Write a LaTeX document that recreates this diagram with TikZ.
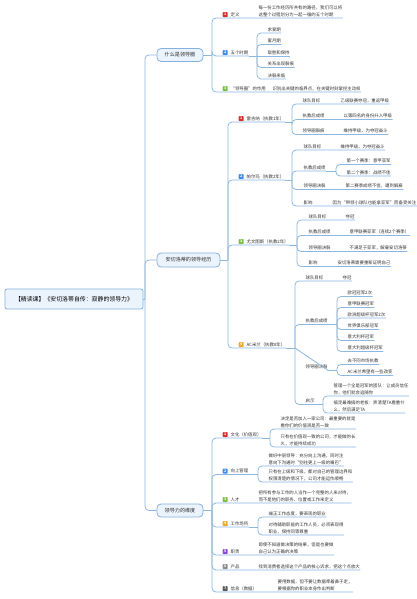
\documentclass[tikz,border=0pt]{standalone}
\usepackage{fontspec}
\setmainfont{Noto Sans CJK SC}
\definecolor{lnc}{HTML}{8DB8E3}
\definecolor{txtc}{HTML}{333333}
\definecolor{boxfill}{HTML}{EBF3FC}
\definecolor{boxdraw}{HTML}{86B1DE}
\definecolor{bred}{HTML}{E42B2B}
\definecolor{bblue}{HTML}{3C8EEA}
\definecolor{bgreen}{HTML}{7DC043}
\definecolor{borange}{HTML}{F5A623}
\definecolor{bpurple}{HTML}{9146E8}
\definecolor{bgray}{HTML}{8C8C8C}
\definecolor{bdgray}{HTML}{5E5E5E}
\newcommand\mmT[4]{\node[txt] (#1) at (#2,#3) {#4};}
\newcommand\mmB[5]{\node[badge,fill=#4] (#1) at (#2,#3) {#5};}
\newcommand\mmC[2]{\draw[conn] (#1) |- (#2.south east);}
\newcommand\mmS[2]{\draw[conn] (#1) -- (#2.south east);}
\newcommand\mmH[2]{\draw[conn] (#1.south east) -- (#2);}
\begin{document}
\begin{tikzpicture}[x=1pt,y=-1pt,
  txt/.style={inner xsep=0.4pt,inner ysep=1pt,anchor=south west,align=left,
    font=\fontsize{4.4}{6.5}\selectfont,text=txtc},
  badge/.style={minimum size=5pt,inner sep=0pt,rounded corners=0.8pt,text=white,
    font=\fontsize{3.6}{3.6}\selectfont\bfseries},
  conn/.style={draw=lnc,line width=0.8pt,rounded corners=4pt},
  mainbox/.style={draw=boxdraw,fill=boxfill,line width=0.8pt,rounded corners=4pt,
    inner sep=0pt,font=\fontsize{5.1}{6}\selectfont,text=txtc},
  rootbox/.style={draw=boxdraw,fill=boxfill,line width=0.8pt,rounded corners=2pt,
    inner sep=0pt,minimum width=138pt,minimum height=20pt,
    font=\fontsize{5.9}{7}\selectfont,text=black}]
\useasboundingbox (0,0) rectangle (417,599);
\fill[white] (0,0) rectangle (417,599);

% root and main nodes
\node[rootbox] (root) at (74,299) {【精读课】《安切洛蒂自传：寂静的领导力》};
\node[mainbox,minimum width=46pt,minimum height=13pt] (m1) at (180,55) {什么是领导圈};
\node[mainbox,minimum width=63pt,minimum height=14pt] (m2) at (188.5,260) {安切洛蒂的领导经历};
\node[mainbox,minimum width=46pt,minimum height=13pt] (m3) at (180,510.5) {领导力的维度};

\coordinate (jR) at (145,299);
\draw[conn] (root.east) -- (jR);
\draw[conn] (jR) |- (m1.west);
\draw[conn] (jR) |- (m2.west);
\draw[conn] (jR) |- (m3.west);

% ---------- branch 1
\coordinate (jA) at (212,55);
\draw[conn] (m1.east) -- (jA);
\mmB{k11}{225.2}{14.6}{bred}{1}
\mmT{t11}{230}{18}{定义}
\mmT{v11}{258}{18}{每一份工作经历所共有的路径，我们可以将\\这整个过程划分为一起一循的五个时期}
\mmC{jA}{v11}
\mmB{k12}{225.2}{52.6}{bblue}{2}
\mmT{t12}{230}{56}{五个时期}
\mmC{jA}{t12}
\coordinate (jB) at (257,56);
\mmH{t12}{jB}
\mmT{p1}{267}{33}{求爱期}
\mmT{p2}{267}{44.5}{蜜月期}
\mmT{p3}{267}{56}{取胜和保持}
\mmT{p4}{267}{67.5}{关系出现裂痕}
\mmT{p5}{267}{79}{决裂来临}
\mmC{jB}{p1}\mmC{jB}{p2}\mmS{jB}{p3}\mmC{jB}{p4}\mmC{jB}{p5}
\mmB{k13}{225.2}{88.6}{bgreen}{3}
\mmT{t13}{230}{92}{“领导圈”的作用}
\mmT{v13}{272}{92}{识别出关键的临界点，在关键时刻掌控主动权}
\mmC{jA}{v13}

% ---------- branch 2
\coordinate (jC) at (228,260);
\draw[conn] (m2.east) -- (jC);
% Reggina
\mmB{k21}{241.2}{118.6}{bred}{1}
\mmT{t21}{246}{122}{雷吉纳（执教1年）}
\mmC{jC}{t21}
\coordinate (jD) at (292,122);
\mmH{t21}{jD}
\mmT{r1}{302}{104}{球队目标}
\mmT{r1v}{340}{104}{乙级联赛夺冠，重返甲级}
\mmT{r2}{302}{119.5}{执教后成绩}
\mmT{r2v}{343}{119.5}{以第四名的身份升入甲级}
\mmT{r3}{302}{134.5}{领导圈裂痕}
\mmT{r3v}{343}{134.5}{维持甲级，为夺冠奋斗}
\mmC{jD}{r1v}\mmC{jD}{r2v}\mmC{jD}{r3v}
% Parma
\mmB{k22}{241.2}{176.6}{bblue}{2}
\mmT{t22}{246}{180}{帕尔玛（执教2年）}
\mmC{jC}{t22}
\coordinate (jE) at (292,180);
\mmH{t22}{jE}
\mmT{q1}{303}{150}{球队目标}
\mmT{q1v}{340}{150}{维持甲级，为夺冠奋斗}
\mmT{q2}{303}{171}{执教后成绩}
\coordinate (jF) at (336,171);
\mmT{q2a}{346}{164.5}{第一个赛季：意甲亚军}
\mmT{q2b}{346}{176}{第二个赛季：战绩不佳}
\mmT{q3}{303}{189.5}{领导圈决裂}
\mmT{q3v}{345}{189.5}{第二赛季成绩不佳，遭到解雇}
\mmT{q4}{303}{206}{影响}
\mmT{q4v}{332}{206}{因为“带领小球队也能拿亚军”而备受关注}
\mmC{jE}{q1v}\mmC{jE}{q2}\mmC{jE}{q3v}\mmC{jE}{q4v}
\mmH{q2}{jF}
\mmC{jF}{q2a}\mmC{jF}{q2b}
% Juventus
\mmB{k23}{241.2}{241.6}{bgreen}{3}
\mmT{t23}{246}{245}{尤文图斯（执教2年）}
\mmC{jC}{t23}
\coordinate (jG) at (297,245);
\mmH{t23}{jG}
\mmT{u1}{308}{220}{球队目标}
\mmT{u1v}{345}{220}{夺冠}
\mmT{u2}{308}{235.5}{执教后成绩}
\mmT{u2v}{349}{235.5}{意甲联赛亚军（连续2个赛季）}
\mmT{u3}{308}{251.5}{领导圈决裂}
\mmT{u3v}{349}{251.5}{不满足于亚军，解雇安切洛蒂}
\mmT{u4}{308}{266.5}{影响}
\mmT{u4v}{337}{266.5}{安切洛蒂需要重新证明自己}
\mmC{jG}{u1v}\mmC{jG}{u2v}\mmC{jG}{u3v}\mmC{jG}{u4v}
% AC Milan
\mmB{k24}{241.2}{344.6}{borange}{4}
\mmT{t24}{246}{348}{AC米兰（执教8年）}
\mmC{jC}{t24}
\coordinate (jH) at (295,348);
\mmH{t24}{jH}
\mmT{w1}{305}{281}{球队目标}
\mmT{w1v}{342}{281}{夺冠}
\mmT{w2}{305}{324.5}{执教后成绩}
\coordinate (jI) at (337,324.5);
\mmT{w2a}{347}{296.5}{欧冠冠军2次}
\mmT{w2b}{347}{307.5}{意甲联赛冠军}
\mmT{w2c}{347}{318}{欧洲超级杯冠军2次}
\mmT{w2d}{347}{329.5}{世界俱乐部冠军}
\mmT{w2e}{347}{340.5}{意大利杯冠军}
\mmT{w2f}{347}{351.5}{意大利超级杯冠军}
\mmT{w3}{305}{370.5}{领导圈决裂}
\coordinate (jJ) at (337,370.5);
\mmT{w3a}{347}{364.5}{去不同市场执教}
\mmT{w3b}{347}{375.5}{AC米兰希望有一些改变}
\mmT{w4}{305}{404.5}{启示}
\coordinate (jK) at (323,404.5);
\mmT{w4a}{333}{396}{管理一个全是冠军的团队：让成员信任\\你，他们就会追随你}
\mmT{w4b}{333}{413}{搞定最难搞的老板：弄清楚TA看重什\\么，然后满足TA}
\mmC{jH}{w1v}\mmC{jH}{w2}\mmS{jH}{w3}\mmC{jH}{w4}
\mmH{w2}{jI}
\mmC{jI}{w2a}\mmC{jI}{w2b}\mmC{jI}{w2c}\mmC{jI}{w2d}\mmC{jI}{w2e}\mmC{jI}{w2f}
\mmH{w3}{jJ}
\mmC{jJ}{w3a}\mmC{jJ}{w3b}
\mmH{w4}{jK}
\mmC{jK}{w4a}\mmC{jK}{w4b}

% ---------- branch 3
\coordinate (jL) at (212,510.5);
\draw[conn] (m3.east) -- (jL);
% culture
\mmB{k31}{225.2}{434.6}{bred}{1}
\mmT{s1}{230}{438}{文化（价值观）}
\mmC{jL}{s1}
\coordinate (jM) at (270,438);
\mmH{s1}{jM}
\mmT{s1a}{280}{429}{决定是否加入一家公司：最重要的就是\\看你们的价值观是否一致}
\mmT{s1b}{280}{447}{只有在价值观一致的公司，才能做的长\\久，才能持续成功}
\mmC{jM}{s1a}\mmC{jM}{s1b}
% managing up
\mmB{k32}{225.2}{471.1}{bblue}{2}
\mmT{s2}{230}{474.5}{向上管理}
\mmC{jL}{s2}
\coordinate (jN) at (258,474.5);
\mmH{s2}{jN}
\mmT{s2a}{268}{466}{做好中层领导：充分向上沟通，同时注\\意向下沟通时“别往更上一级的嘴巴”}
\mmT{s2b}{268}{482}{只有在上级和下级，都对自己的管理边界和\\权限清楚的情况下，公司才能运作顺畅}
\mmC{jN}{s2a}\mmC{jN}{s2b}
% talent
\mmB{k33}{225.2}{499.6}{bgreen}{3}
\mmT{s3}{230}{503}{人才}
\mmT{s3v}{258}{503}{把所有参与工作的人当作一个完整的人来对待，\\而不是他们的职务、位置或工作来定义}
\mmC{jL}{s3v}
% workplace
\mmB{k34}{225.2}{523.6}{borange}{4}
\mmT{s4}{230}{527}{工作场所}
\mmC{jL}{s4}
\coordinate (jO) at (258,527);
\mmH{s4}{jO}
\mmT{s4a}{268}{517}{端正工作态度，要表现的职业}
\mmT{s4b}{268}{535}{对待辅助职能的工作人员，必须表现得\\职业，保持同等尊重}
\mmC{jO}{s4a}\mmC{jO}{s4b}
% duty
\mmB{k35}{225.2}{551.6}{bpurple}{5}
\mmT{s5}{230}{555}{职责}
\mmT{s5v}{258}{555}{即使不知道做决策的结果，但是也要做\\自己认为正确的决策}
\mmC{jL}{s5v}
% product
\mmB{k36}{225.2}{566.6}{bgray}{6}
\mmT{s6}{230}{570}{产品}
\mmT{s6v}{258}{570}{找到消费者选择这个产品的核心诉求，把这个点放大}
\mmC{jL}{s6v}
% info
\mmB{k37}{225.2}{588.6}{bdgray}{7}
\mmT{s7}{230}{592}{信息（数据）}
\mmT{s7v}{277}{592}{要用数据，但不要让数据牵着鼻子走，\\要根据你的职业本身作出判断}
\mmC{jL}{s7v}
\end{tikzpicture}
\end{document}
